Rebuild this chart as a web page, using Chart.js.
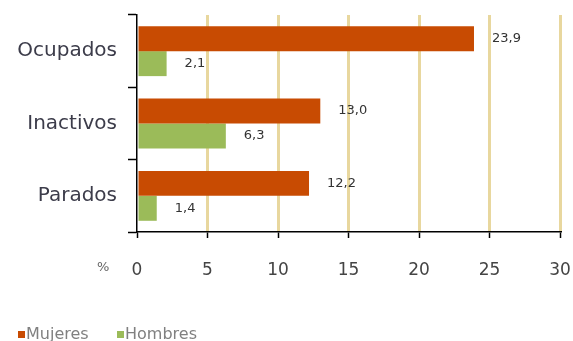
<!DOCTYPE html>
<html>
<head>
<meta charset="utf-8">
<script src="https://cdn.jsdelivr.net/npm/chart.js@4"></script>
<style>
  html, body { margin: 0; padding: 0; background: #ffffff; }
  #wrap { width: 573px; height: 341px; position: relative; }
</style>
</head>
<body>
<div id="wrap"><canvas id="c" width="573" height="341"></canvas></div>
<script>
const categories = ["Ocupados", "Inactivos", "Parados"];
const mujeres = [23.9, 13.0, 12.2];
const hombres = [2.1, 6.3, 1.4];
const seriesNames = ["Mujeres", "Hombres"];
const xTicks = [0, 5, 10, 15, 20, 25, 30];

const colMujeres = "#C84B02";
const colHombres = "#9BBB59";
const gridCol = "#E8D79E";

const extras = {
  id: "extras",
  afterDatasetsDraw(chart) {
    const ctx = chart.ctx;
    ctx.save();
    ctx.font = "13px 'DejaVu Sans'";
    ctx.fillStyle = "#333333";
    ctx.textAlign = "left";
    ctx.textBaseline = "middle";
    chart.data.datasets.forEach((ds, i) => {
      const meta = chart.getDatasetMeta(i);
      meta.data.forEach((el, j) => {
        const v = ds.data[j];
        ctx.fillText(v.toFixed(1).replace(".", ","), el.x + 18, el.y);
      });
    });
    ctx.restore();
  },
  afterDraw(chart) {
    const ctx = chart.ctx;
    ctx.save();
    ctx.font = "13px 'DejaVu Sans'";
    ctx.fillStyle = "#666666";
    ctx.textAlign = "left";
    ctx.textBaseline = "middle";
    ctx.fillText("%", 97, 268);
    const items = [
      { name: seriesNames[0], color: colMujeres, x: 18 },
      { name: seriesNames[1], color: colHombres, x: 117 }
    ];
    ctx.font = "16px 'DejaVu Sans'";
    items.forEach(it => {
      ctx.fillStyle = it.color;
      ctx.fillRect(it.x, 331, 7, 7);
      ctx.fillStyle = "#808080";
      ctx.fillText(it.name, it.x + 8, 335);
    });
    ctx.restore();
  }
};

new Chart(document.getElementById("c"), {
  type: "bar",
  data: {
    labels: categories,
    datasets: [
      { label: seriesNames[0], data: mujeres, backgroundColor: colMujeres, categoryPercentage: 0.69, barPercentage: 1.0 },
      { label: seriesNames[1], data: hombres, backgroundColor: colHombres, categoryPercentage: 0.69, barPercentage: 1.0 }
    ]
  },
  options: {
    indexAxis: "y",
    responsive: false,
    animation: false,
    layout: { padding: { left: 0, right: 13, top: 15, bottom: 59 } },
    plugins: { legend: { display: false }, tooltip: { enabled: false } },
    scales: {
      x: {
        min: xTicks[0],
        max: xTicks[xTicks.length - 1],
        afterBuildTicks(scale) { scale.ticks = xTicks.map(v => ({ value: v })); },
        afterFit(scale) {
          scale.height = 50;
          scale.paddingLeft = 0; scale.paddingRight = 0;
          scale.paddingTop = 0; scale.paddingBottom = 0;
        },
        grid: {
          color: ctx => ctx.index === 0 ? "rgba(0,0,0,0)" : gridCol,
          lineWidth: 3,
          tickColor: "#000000",
          tickLength: 6,
          tickWidth: 1.5
        },
        border: { display: true, color: "#000000", width: 1.5 },
        ticks: {
          padding: 22,
          color: "#444444",
          font: { family: "'DejaVu Sans'", size: 17 }
        }
      },
      y: {
        afterFit(scale) {
          scale.width = 137;
          scale.paddingLeft = 0; scale.paddingRight = 0;
          scale.paddingTop = 0; scale.paddingBottom = 0;
        },
        grid: {
          display: true,
          drawOnChartArea: false,
          offset: true,
          tickColor: "#000000",
          tickLength: 9,
          tickWidth: 1.5
        },
        border: { display: true, color: "#000000", width: 1.5 },
        ticks: {
          padding: 11,
          color: "#3c3c4a",
          font: { family: "'DejaVu Sans'", size: 20 }
        }
      }
    }
  },
  plugins: [extras]
});
</script>
</body>
</html>
